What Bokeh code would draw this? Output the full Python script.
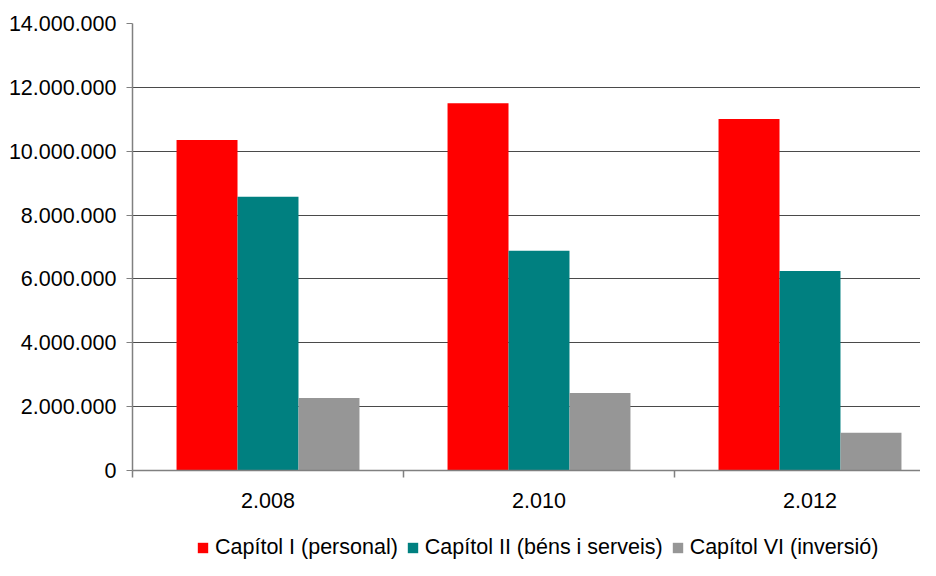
from bokeh.plotting import figure
from bokeh.layouts import column
from bokeh.models import (ColumnDataSource, FixedTicker, CustomJSTickFormatter, Range1d,
                          Legend, LegendItem)
from bokeh.transform import dodge
from bokeh.embed import file_html
from bokeh.resources import INLINE

# ---- data ----
years = ["2.008", "2.010", "2.012"]
series_names = ["Capítol I (personal)", "Capítol II (béns i serveis)", "Capítol VI (inversió)"]
cap1 = [10350000, 11500000, 11010000]
cap2 = [8570000, 6880000, 6250000]
cap6 = [2270000, 2430000, 1180000]
y_ticks = [0, 2000000, 4000000, 6000000, 8000000, 10000000, 12000000, 14000000]
colors = ["#FF0000", "#008080", "#969696"]

FONT = "Liberation Sans"
FS = "21.5px"
W = 920
LEG_H = 24
LEFT = 132

src = ColumnDataSource(dict(x=list(range(len(years))), cap1=cap1, cap2=cap2, cap6=cap6))

p = figure(width=W, height=560 - LEG_H, output_backend="svg", toolbar_location=None,
           x_range=Range1d(-0.5, -0.5 + (W - LEFT) / 271.0), y_range=Range1d(0, 14000000),
           min_border_left=LEFT, min_border_right=0, min_border_top=23,
           min_border_bottom=560 - LEG_H - 470)
p.outline_line_color = None
p.background_fill_color = "white"
p.border_fill_color = "white"

bw = 0.225
renderers = []
for col, off, c in zip(["cap1", "cap2", "cap6"], [-bw, 0, bw], colors):
    r = p.vbar(x=dodge("x", off, range=p.x_range), top=col, width=bw, bottom=0,
               source=src, fill_color=c, line_color=None)
    renderers.append(r)

# grid
p.xgrid.visible = False
p.ygrid.ticker = FixedTicker(ticks=y_ticks)
p.ygrid.grid_line_color = "#4a4a4a"
p.ygrid.grid_line_width = 1

# y axis
ya = p.yaxis[0]
ya.ticker = FixedTicker(ticks=y_ticks)
ya.formatter = CustomJSTickFormatter(code="""
return Math.round(tick).toString().replace(/\\B(?=(\\d{3})+(?!\\d))/g, '.');
""")
ya.major_label_text_font = FONT
ya.major_label_text_font_size = FS
ya.major_label_text_color = "#000000"
ya.axis_line_color = "#808080"
ya.axis_line_width = 1.5
ya.major_tick_line_color = "#808080"
ya.major_tick_in = 0
ya.major_tick_out = 6
ya.minor_tick_line_color = None
ya.major_label_standoff = 10

# x axis
xa = p.xaxis[0]
xa.ticker = FixedTicker(ticks=[0, 1, 2], minor_ticks=[-0.5, 0.5, 1.5, 2.5])
xa.formatter = CustomJSTickFormatter(args=dict(labels=years), code="""
const i = Math.round(tick);
return (i >= 0 && i < labels.length) ? labels[i] : '';
""")
xa.major_label_text_font = FONT
xa.major_label_text_font_size = FS
xa.major_label_text_color = "#000000"
xa.axis_line_color = "#808080"
xa.axis_line_width = 1.5
xa.major_tick_line_color = None
xa.major_tick_in = 0
xa.major_tick_out = 0
xa.minor_tick_line_color = "#808080"
xa.minor_tick_line_width = 1.5
xa.minor_tick_in = 0
xa.minor_tick_out = 7
xa.major_label_standoff = 15

# ---- legend strip ----
lg = figure(width=W, height=LEG_H, output_backend="svg", toolbar_location=None,
            min_border_left=0, min_border_right=0, min_border_top=0, min_border_bottom=0,
            x_range=Range1d(0, 1), y_range=Range1d(0, 1))
lg.axis.visible = False
lg.grid.visible = False
lg.outline_line_color = None
lg_src = ColumnDataSource(dict(x=[10], top=[10]))
dummies = [lg.vbar(x="x", top="top", width=0.1, source=lg_src, fill_color=c, line_color=None)
           for c in colors]
legend = Legend(items=[LegendItem(label=n, renderers=[r]) for n, r in zip(series_names, dummies)],
                orientation="horizontal", location=(196 - LEFT, 0), padding=0, margin=0,
                spacing=8, label_standoff=6, glyph_width=13, glyph_height=13,
                label_text_font=FONT, label_text_font_size=FS, label_text_color="#000000",
                border_line_color=None, background_fill_alpha=0)
lg.add_layout(legend)

layout = column(p, lg, spacing=0)
open("out.html", "w").write(file_html(layout, INLINE))
